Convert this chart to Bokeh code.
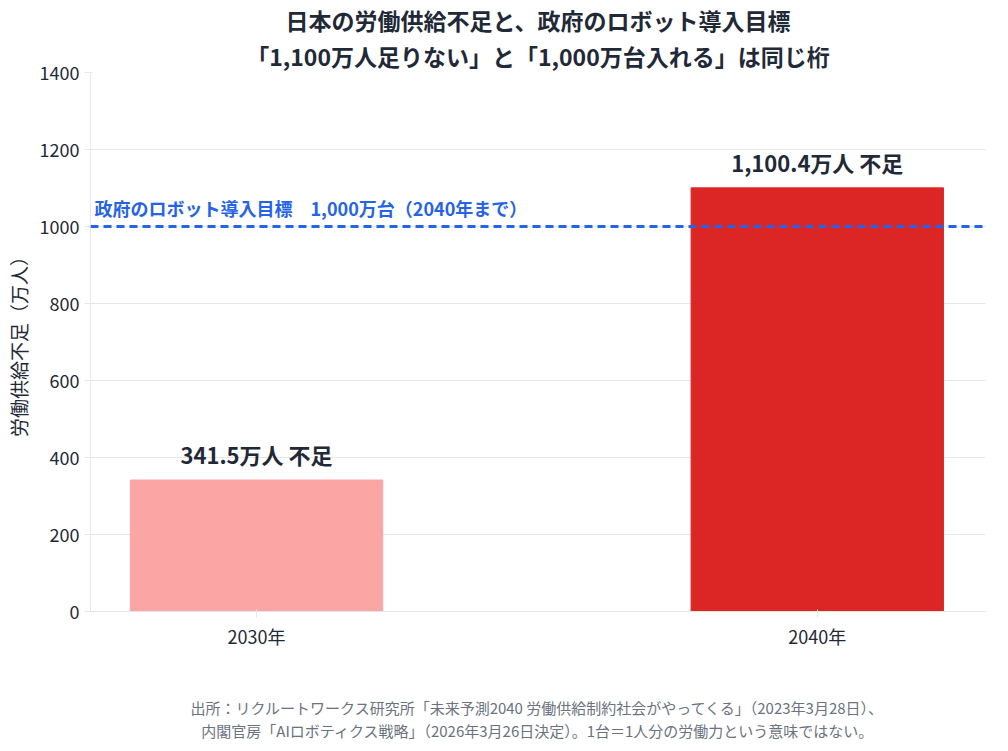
from bokeh.plotting import figure
from bokeh.models import Span, Label, Title, FixedTicker, ColumnDataSource
from bokeh.embed import file_html
from bokeh.resources import INLINE

categories = ["2030年", "2040年"]
values = [341.5, 1100.4]
labels = ["341.5万人 不足", "1,100.4万人 不足"]
colors = ["#fca5a5", "#dc2626"]
target = 1000
target_label = "政府のロボット導入目標　1,000万台（2040年まで）"
FONT = "Noto Sans CJK JP"

p = figure(width=990, height=740, x_range=(-0.296, 1.3), y_range=(0, 1400),
           output_backend="svg", toolbar_location=None, min_border_left=90, min_border_right=5,
           min_border_top=8)
xs = list(range(len(categories)))
src = ColumnDataSource(dict(x=xs, top=values, color=colors, lab=labels))
p.vbar(x="x", top="top", width=0.45, color="color", source=src)
p.text(x="x", y="top", text="lab", source=src, text_align="center", text_baseline="bottom",
       y_offset=-10, text_font_size="22px", text_font_style="bold", text_color="#1f2937",
       text_font={"value": FONT})

p.add_layout(Span(location=target, dimension="width", line_color="#2563eb",
                  line_dash="8 5", line_width=3))
p.add_layout(Label(x=-0.296, y=target, text=target_label, x_offset=4, y_offset=6,
                   text_font_size="18px", text_font_style="bold", text_color="#2563eb",
                   text_font=FONT))

p.xaxis.ticker = FixedTicker(ticks=xs)
p.xaxis.major_label_overrides = {i: c for i, c in enumerate(categories)}
p.yaxis.ticker = FixedTicker(ticks=list(range(0, 1401, 200)))
p.yaxis.axis_label = "労働供給不足（万人）"
for ax in (p.xaxis, p.yaxis):
    ax.major_label_text_font = FONT
    ax.major_label_text_font_size = "18px"
    ax.major_label_text_color = "#1f2937"
    ax.axis_label_text_font = FONT
    ax.axis_label_text_font_size = "19px"
    ax.axis_label_text_font_style = "normal"
    ax.axis_label_text_color = "#1f2937"
    ax.axis_line_color = "#e5e7eb"
    ax.major_tick_line_color = "#e5e7eb"
    ax.minor_tick_line_color = None
p.xgrid.grid_line_color = None
p.ygrid.grid_line_color = "#e5e7eb"
p.outline_line_color = None

for t in ["「1,100万人足りない」と「1,000万台入れる」は同じ桁", "日本の労働供給不足と、政府のロボット導入目標"]:
    p.add_layout(Title(text=t, align="center", text_font=FONT, text_font_size="23px",
                       text_font_style="bold", text_color="#1f2937", standoff=0), "above")

p.add_layout(Title(text=" ", text_font_size="28px"), "below")
for t in ["出所：リクルートワークス研究所「未来予測2040 労働供給制約社会がやってくる」（2023年3月28日）、",
          "内閣官房「AIロボティクス戦略」（2026年3月26日決定）。1台＝1人分の労働力という意味ではない。"]:
    p.add_layout(Title(text=t, align="center", text_font=FONT, text_font_size="15px",
                       text_font_style="normal", text_color="#6b7280", standoff=0), "below")

open("out.html", "w").write(file_html(p, INLINE))
